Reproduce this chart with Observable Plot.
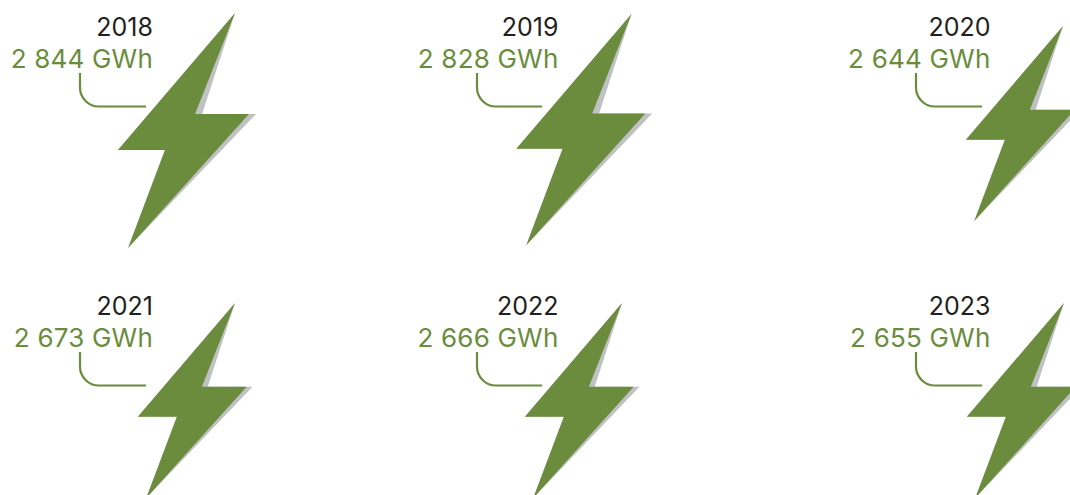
<!DOCTYPE html>
<html>
<head>
<meta charset="utf-8">
<script src="https://cdn.jsdelivr.net/npm/d3@7"></script>
<script src="https://cdn.jsdelivr.net/npm/@observablehq/plot@0.6"></script>
<style>
  html, body { margin: 0; padding: 0; background: #fff; }
  svg { display: block; overflow: hidden; }
</style>
</head>
<body>
<div id="chart"></div>
<script>
// Chart values
const years = [2018, 2019, 2020, 2021, 2022, 2023];
const generation = [2844, 2828, 2644, 2673, 2666, 2655];
const valueLabels = ["2 844 GWh", "2 828 GWh", "2 644 GWh", "2 673 GWh", "2 666 GWh", "2 655 GWh"];

// Layout, per panel (separate from the values)
const labelRight = [152.5, 558, 990, 152.5, 558, 990];
const leaderLeft = [80, 477, 916, 80, 477, 916];
const leaderRight = [146, 542, 982, 146, 542, 982];
const rowTop = [0, 0, 0, 279, 279, 279];
const tipX = [235, 631.5, 1063, 235, 622, 1064];
const tipY = [13, 14, 26, 303, 303, 303];

// Bolt outline, in fractions of the bolt height, measured from its top tip
const boltU = [0, -0.170, 0.0596, -0.455, -0.298, -0.498];
const boltV = [0, 0.430, 0.430, 1, 0.583, 0.583];
const shadowU = [0, -0.140, 0.0896, -0.455, -0.298, -0.498];
const shadowV = [0, 0.430, 0.430, 1, 0.583, 0.583];

// Bolt height follows generation, floored at its smallest drawn size
const boltHeight = d3.scaleLinear().domain([2673, 2844]).range([195, 235]).clamp(true);

const GREEN = "#6a8c3c";
const GREY = "#c0c1c2";
const INK = "#231f20";
const FONT = "Inter, 'Noto Sans', sans-serif";

const panels = years.map((year, i) => ({
  year, value: generation[i], valueLabel: valueLabels[i], i,
  h: boltHeight(generation[i])
}));

const outline = (us, vs) => panels.flatMap(p => us.map((u, k) => ({
  year: p.year,
  x: tipX[p.i] + u * p.h,
  y: tipY[p.i] + vs[k] * p.h
})));

const leaders = panels.flatMap(p => [
  {year: p.year, x: leaderLeft[p.i], y: rowTop[p.i] + 73},
  {year: p.year, x: leaderLeft[p.i], y: rowTop[p.i] + 106.5},
  {year: p.year, x: leaderRight[p.i], y: rowTop[p.i] + 106.5}
]);

// Elbow with a rounded corner
const elbow = radius => context => {
  let pts = [];
  return {
    lineStart() { pts = []; },
    point(x, y) { pts.push([x, y]); },
    lineEnd() {
      context.moveTo(pts[0][0], pts[0][1]);
      context.arcTo(pts[1][0], pts[1][1], pts[2][0], pts[2][1], radius);
      context.lineTo(pts[2][0], pts[2][1]);
    },
    areaStart() {}, areaEnd() {}
  };
};

const chart = Plot.plot({
  width: 1070,
  height: 495,
  margin: 0,
  style: {background: "#fff", fontFamily: FONT},
  x: {domain: [0, 1070], range: [0, 1070], axis: null},
  y: {domain: [0, 495], range: [0, 495], axis: null},
  marks: [
    Plot.line(outline(shadowU, shadowV), {x: "x", y: "y", z: "year", fill: GREY, stroke: "none", dx: -0.5, dy: -0.5}),
    Plot.line(outline(boltU, boltV), {x: "x", y: "y", z: "year", fill: GREEN, stroke: "none", dx: -0.5, dy: -0.5}),
    Plot.line(leaders, {x: "x", y: "y", z: "year", stroke: GREEN, strokeWidth: 2.2, curve: elbow(19), strokeLinecap: "butt", dx: -0.5, dy: -0.5}),
    Plot.text(panels, {
      x: p => labelRight[p.i], y: p => rowTop[p.i] + 35,
      text: p => String(p.year), textAnchor: "end", lineAnchor: "bottom",
      fontSize: 25, fontWeight: 400, fill: INK
    }),
    Plot.text(panels, {
      x: p => labelRight[p.i], y: p => rowTop[p.i] + 67,
      text: "valueLabel", textAnchor: "end", lineAnchor: "bottom",
      fontSize: 26, fontWeight: 400, fill: GREEN
    })
  ]
});
chart.querySelectorAll("text").forEach(t => {
  if (t.textContent.endsWith("GWh")) t.setAttribute("letter-spacing", "0.2");
});
document.getElementById("chart").appendChild(chart);
</script>
</body>
</html>
